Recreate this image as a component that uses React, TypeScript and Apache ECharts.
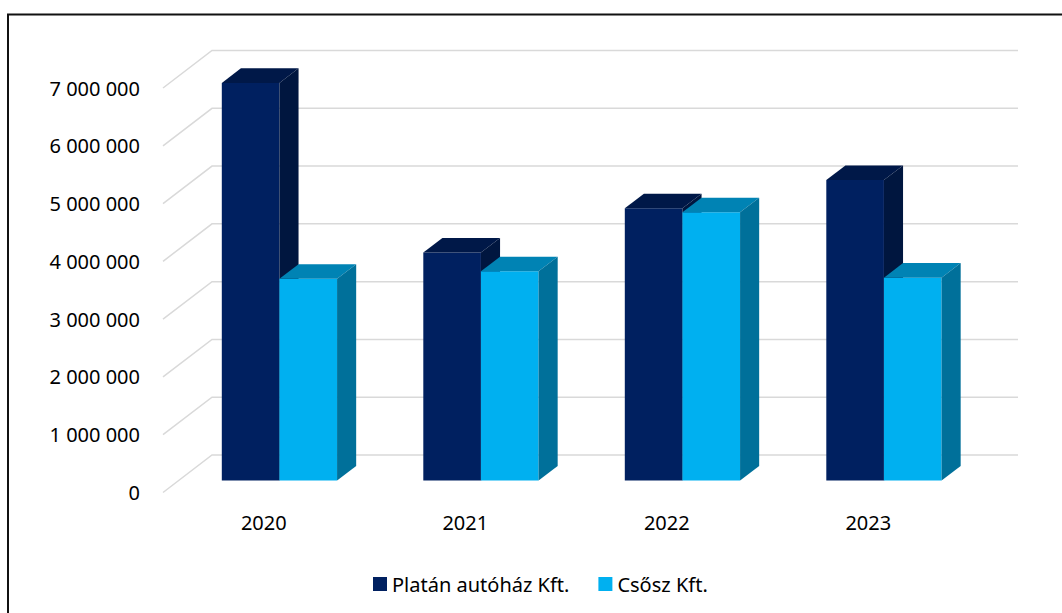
import React, { useEffect, useRef } from "react";
import * as echarts from "echarts";

const categories = ["2020", "2021", "2022", "2023"];
const platanValues = [6880000, 3945000, 4710000, 5200000];
const csoszValues = [3490000, 3620000, 4640000, 3510000];
const gridValues = [0, 1000000, 2000000, 3000000, 4000000, 5000000, 6000000, 7000000];
const seriesNames = ["Platán autóház Kft.", "Csősz Kft."];

const FONT = "'Noto Sans', sans-serif";
const DEPTH_X = 49;
const DEPTH_Y = -37.5;
const FRONT_F = 0.32;
const BAR_D = 0.39;
const BAR_FRAC = 0.286;

const platanColors = { front: "#002060", top: "#001848", side: "#00163f" };
const csoszColors = { front: "#00b0f0", top: "#0083b4", side: "#00709a" };

function fmt(v: number) {
  return String(v).replace(/\B(?=(\d{3})+(?!\d))/g, " ");
}

function barRenderer(offsetIdx: number, c: { front: string; top: string; side: string }) {
  return (params: any, api: any) => {
    const cat = api.value(0);
    const v = api.value(1);
    const base = api.coord([cat, 0]);
    const topP = api.coord([cat, v]);
    const band = api.size([1, 0])[0];
    const w = band * BAR_FRAC;
    const fx = DEPTH_X * FRONT_F;
    const fy = DEPTH_Y * FRONT_F;
    const bx = DEPTH_X * BAR_D;
    const by = DEPTH_Y * BAR_D;
    const x0 = base[0] + offsetIdx * w + fx;
    const x1 = x0 + w;
    const yb = base[1] + fy;
    const yt = topP[1] + fy;
    return {
      type: "group",
      children: [
        { type: "rect", shape: { x: x0, y: yt, width: w, height: yb - yt }, style: { fill: c.front } },
        {
          type: "polygon",
          shape: { points: [[x0, yt], [x1, yt], [x1 + bx, yt + by], [x0 + bx, yt + by]] },
          style: { fill: c.top },
        },
        {
          type: "polygon",
          shape: { points: [[x1, yt], [x1 + bx, yt + by], [x1 + bx, yb + by], [x1, yb]] },
          style: { fill: c.side },
        },
      ],
    };
  };
}

export default function App() {
  const ref = useRef<HTMLDivElement>(null);
  useEffect(() => {
    if (!ref.current) return;
    const chart = echarts.init(ref.current, undefined, { renderer: "svg" });
    chart.setOption({
      animation: false,
      backgroundColor: "#ffffff",
      textStyle: { fontFamily: FONT },
      graphic: [
        {
          type: "rect",
          shape: { x: 8, y: 14.5, width: 1200, height: 800 },
          style: { fill: "none", stroke: "#111", lineWidth: 2 },
          silent: true,
        },
      ],
      grid: { left: 163, top: 88, width: 806, height: 404.5 },
      xAxis: {
        type: "category",
        data: categories,
        axisLine: { show: false },
        axisTick: { show: false },
        axisLabel: { margin: 20, fontSize: 20, color: "#000", fontFamily: FONT },
        splitLine: { show: false },
      },
      yAxis: {
        type: "value",
        min: 0,
        max: 7000000,
        interval: 1000000,
        axisLine: { show: false },
        axisTick: { show: false },
        splitLine: { show: false },
        axisLabel: { margin: 23, fontSize: 20, color: "#000", fontFamily: FONT, formatter: (v: number) => fmt(v) },
      },
      legend: {
        data: seriesNames.map((n) => ({ name: n, icon: "rect" })),
        left: 368,
        top: 569,
        itemWidth: 14,
        itemHeight: 14,
        itemGap: 29,
        textStyle: { fontSize: 20, color: "#000", fontFamily: FONT },
      },
      series: [
        {
          type: "custom",
          name: "grid",
          silent: true,
          clip: false,
          z: 1,
          data: gridValues.map((v) => [0, v]),
          encode: { x: 0, y: 1 },
          renderItem: (params: any, api: any) => {
            const p = api.coord([0, api.value(1)]);
            const cs = params.coordSys;
            return {
              type: "polyline",
              shape: {
                points: [
                  [cs.x, p[1]],
                  [cs.x + DEPTH_X, p[1] + DEPTH_Y],
                  [cs.x + cs.width + DEPTH_X, p[1] + DEPTH_Y],
                ],
              },
              style: { fill: "none", stroke: "#d9d9d9", lineWidth: 1.5 },
            };
          },
        },
        {
          type: "custom",
          name: seriesNames[0],
          clip: false,
          z: 2,
          itemStyle: { color: platanColors.front },
          data: platanValues.map((v, i) => [i, v]),
          encode: { x: 0, y: 1 },
          renderItem: barRenderer(-1, platanColors),
        },
        {
          type: "custom",
          name: seriesNames[1],
          clip: false,
          z: 3,
          itemStyle: { color: csoszColors.front },
          data: csoszValues.map((v, i) => [i, v]),
          encode: { x: 0, y: 1 },
          renderItem: barRenderer(0, csoszColors),
        },
      ],
    });
    return () => chart.dispose();
  }, []);
  return <div ref={ref} style={{ position: "absolute", left: 0, top: 0, width: 1062, height: 613 }} />;
}
